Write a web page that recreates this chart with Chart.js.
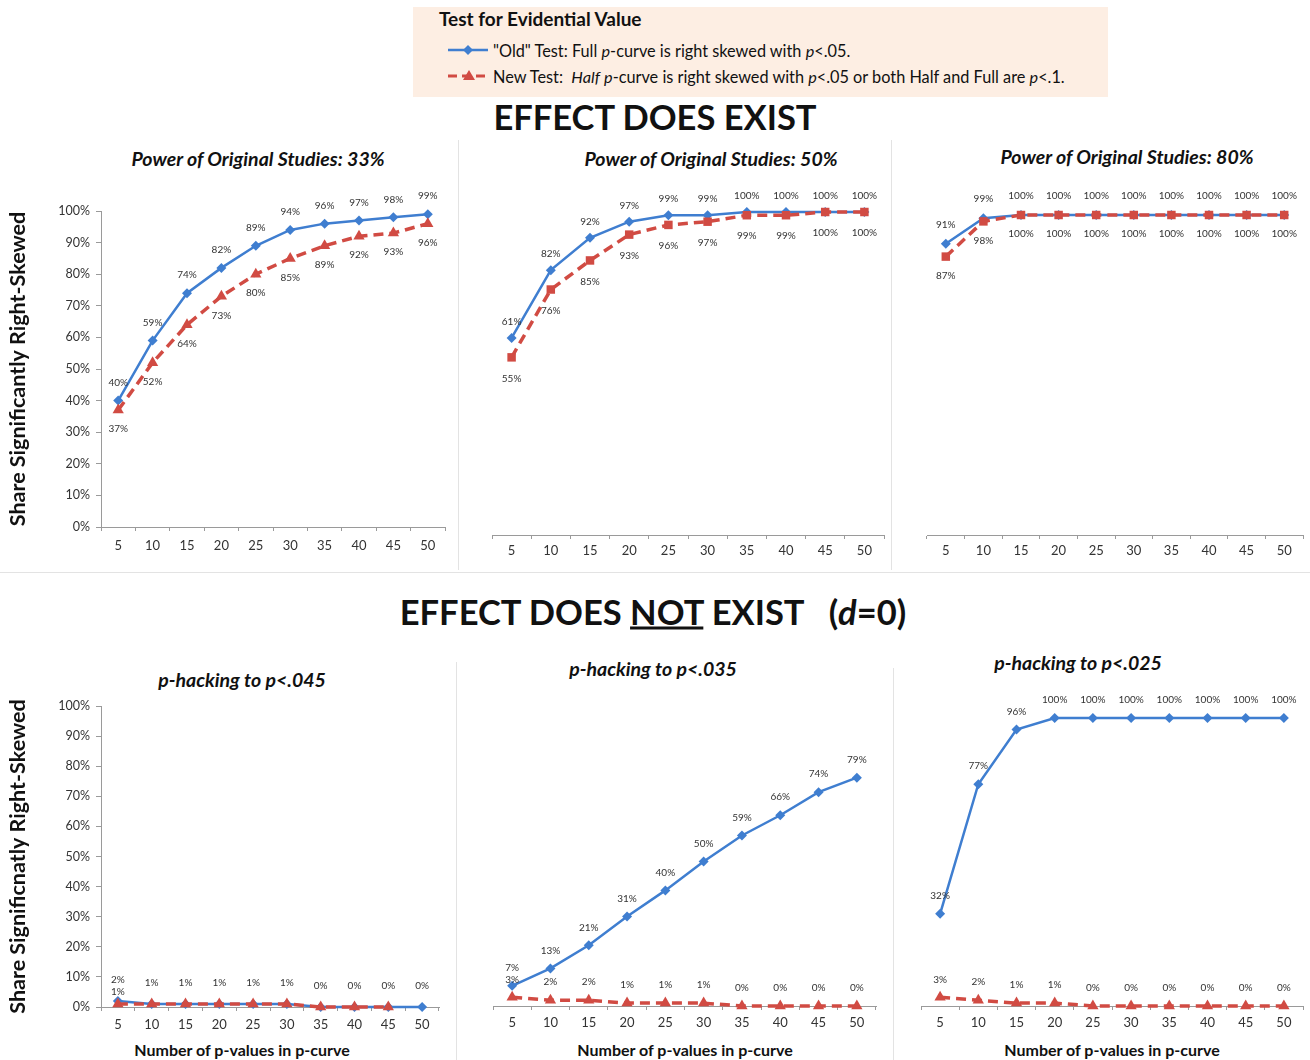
<!DOCTYPE html>
<html>
<head>
<meta charset="utf-8">
<script src="https://cdn.jsdelivr.net/npm/chart.js@4.4.1/dist/chart.umd.min.js"></script>
<style>
  body { margin: 0; background: #fff; font-family: Lato, "Open Sans", sans-serif; color: #111; }
  #page { position: relative; width: 1310px; height: 1060px; overflow: hidden; }
  .abs { position: absolute; white-space: nowrap; }
  canvas { position: absolute; }
  .legend { left: 413px; top: 7px; width: 695px; height: 90px; background: #fdeee3; }
  .bigtitle { font-weight: 700; font-size: 34.5px; transform: translate(-50%, -50%); }
  .ptitle { font-weight: 700; font-style: italic; font-size: 19.5px; transform: translate(-50%, -50%); }
  .xtitle { font-weight: 700; font-size: 16px; transform: translate(-50%, -50%); }
  .legtext { font-size: 16.3px; transform: translateY(-50%); }
  .sep { background: #e3e3e3; }
</style>
</head>
<body>
<div id="page">
  <div class="abs legend"></div>
  <div class="abs" style="left:439px; top:7px; font-weight:700; font-size:19px;">Test for Evidential Value</div>
  <svg class="abs" style="left:448px; top:42px;" width="40" height="16">
    <line x1="0" y1="8" x2="40" y2="8" stroke="#3f7ed0" stroke-width="2.5"/>
    <polygon points="20,3 25,8 20,13 15,8" fill="#3f7ed0"/>
  </svg>
  <div class="abs legtext" style="left:493px; top:50px;">"Old" Test: Full <i>p</i>-curve is right skewed with <i>p</i>&lt;.05.</div>
  <svg class="abs" style="left:448px; top:68px;" width="40" height="16">
    <line x1="0" y1="8" x2="40" y2="8" stroke="#d14b43" stroke-width="3" stroke-dasharray="9,5"/>
    <polygon points="21,2 27,12 15,12" fill="#d14b43"/>
  </svg>
  <div class="abs legtext" style="left:493px; top:76px;">New Test:&nbsp; <i>Half</i> <i>p</i>-curve is right skewed with <i>p</i>&lt;.05 or both Half and Full are <i>p</i>&lt;.1.</div>

  <div class="abs bigtitle" style="left:655px; top:116px;">EFFECT DOES EXIST</div>
  <div class="abs bigtitle" style="left:653px; top:611px;">EFFECT DOES <u>NOT</u> EXIST&nbsp;&nbsp; (<i>d</i>=0)</div>

  <div class="abs sep" style="left:0; top:572px; width:1310px; height:1px;"></div>
  <div class="abs sep" style="left:458px; top:140px; width:1px; height:430px;"></div>
  <div class="abs sep" style="left:891px; top:140px; width:1px; height:430px;"></div>
  <div class="abs sep" style="left:456px; top:662px; width:1px; height:398px;"></div>
  <div class="abs sep" style="left:893px; top:668px; width:1px; height:392px;"></div>

  <div class="abs ptitle" style="left:258px; top:158px;">Power of Original Studies: 33%</div>
  <div class="abs ptitle" style="left:711px; top:158px;">Power of Original Studies: 50%</div>
  <div class="abs ptitle" style="left:1127px; top:156px;">Power of Original Studies: 80%</div>
  <div class="abs ptitle" style="left:242px; top:679px;">p-hacking to p&lt;.045</div>
  <div class="abs ptitle" style="left:653px; top:668px;">p-hacking to p&lt;.035</div>
  <div class="abs ptitle" style="left:1078px; top:662px;">p-hacking to p&lt;.025</div>

  <div class="abs xtitle" style="left:242px; top:1049px;">Number of p-values in p-curve</div>
  <div class="abs xtitle" style="left:685px; top:1049px;">Number of p-values in p-curve</div>
  <div class="abs xtitle" style="left:1112px; top:1049px;">Number of p-values in p-curve</div>

  <canvas id="c1"></canvas>
  <canvas id="c2"></canvas>
  <canvas id="c3"></canvas>
  <canvas id="c4"></canvas>
  <canvas id="c5"></canvas>
  <canvas id="c6"></canvas>
</div>

<script>
// number of p-values in the p-curve (x categories)
const nValues = ['5', '10', '15', '20', '25', '30', '35', '40', '45', '50'];

// Effect does exist
const power33Old = [40, 59, 74, 82, 89, 94, 96, 97, 98, 99];
const power33New = [37, 52, 64, 73, 80, 85, 89, 92, 93, 96];
const power50Old = [61, 82, 92, 97, 99, 99, 100, 100, 100, 100];
const power50New = [55, 76, 85, 93, 96, 97, 99, 99, 100, 100];
const power80Old = [91, 99, 100, 100, 100, 100, 100, 100, 100, 100];
const power80New = [87, 98, 100, 100, 100, 100, 100, 100, 100, 100];

// Effect does not exist (d=0)
const hack045Old = [2, 1, 1, 1, 1, 1, 0, 0, 0, 0];
const hack045New = [1, 1, 1, 1, 1, 1, 0, 0, 0, null];
const hack035Old = [7, 13, 21, 31, 40, 50, 59, 66, 74, 79];
const hack035New = [3, 2, 2, 1, 1, 1, 0, 0, 0, 0];
const hack025Old = [32, 77, 96, 100, 100, 100, 100, 100, 100, 100];
const hack025New = [3, 2, 1, 1, 0, 0, 0, 0, 0, 0];

// which labels of the new test are printed in the p<.045 panel
const hack045NewShown = [true, false, false, false, false, false, false, false, false, false];

const BLUE = '#3f7ed0';
const RED = '#d14b43';
const FONT = 'Lato, "Open Sans", sans-serif';

// draws the percent labels next to every point
const valueLabels = {
  id: 'valueLabels',
  afterDatasetsDraw(chart) {
    const ctx = chart.ctx;
    ctx.save();
    ctx.font = '10px ' + FONT;
    ctx.fillStyle = '#333';
    ctx.textAlign = 'center';
    ctx.textBaseline = 'middle';
    chart.data.datasets.forEach((ds, i) => {
      const meta = chart.getDatasetMeta(i);
      meta.data.forEach((pt, j) => {
        const v = ds.data[j];
        if (v === null || v === undefined) return;
        if (ds.labelShown && !ds.labelShown[j]) return;
        ctx.fillText(v + '%', pt.x, pt.y + ds.labelOffset);
      });
    });
    ctx.restore();
  }
};

function makePanel(p) {
  const canvas = document.getElementById(p.id);
  canvas.style.left = p.left + 'px';
  canvas.style.top = p.top + 'px';
  canvas.width = p.width;
  canvas.height = p.height;
  canvas.style.width = p.width + 'px';
  canvas.style.height = p.height + 'px';

  const yScale = {
    min: 0,
    max: 100,
    display: p.showY,
    ticks: {
      stepSize: 10,
      padding: 6,
      color: '#333',
      font: { size: 12.5, family: FONT },
      callback: v => v + '%'
    },
    grid: { drawOnChartArea: false, tickLength: 5, color: '#9a9a9a' },
    border: { color: '#9a9a9a' },
    title: {
      display: !!p.yTitle,
      text: p.yTitle,
      color: '#111',
      font: { size: 21.5, weight: 'bold', family: FONT },
      padding: { top: 5, bottom: 0 }
    },
    afterFit: s => { if (p.yWidth) s.width = p.yWidth; }
  };

  new Chart(canvas.getContext('2d'), {
    type: 'line',
    data: {
      labels: nValues,
      datasets: [{
        label: 'Old',
        data: p.oldData,
        borderColor: BLUE,
        backgroundColor: BLUE,
        borderWidth: 2.5,
        pointStyle: 'rectRot',
        pointRadius: 5,
        pointBorderWidth: 0,
        clip: false,
        order: 1,
        labelOffset: p.oldOff
      }, {
        label: 'New',
        data: p.newData,
        borderColor: RED,
        backgroundColor: RED,
        borderWidth: 3.5,
        borderDash: [10, 6],
        pointStyle: p.newMarker,
        pointRadius: p.newMarker === 'rect' ? 6 : 6.5,
        pointBorderWidth: 0,
        clip: false,
        order: 0,
        labelOffset: p.newOff,
        labelShown: p.newShown
      }]
    },
    options: {
      responsive: false,
      animation: false,
      layout: { padding: { left: p.padL, right: p.padR, top: p.padT, bottom: 0 } },
      plugins: { legend: { display: false }, tooltip: { enabled: false } },
      scales: {
        x: {
          offset: true,
          ticks: { padding: p.xPad, color: '#333', font: { size: 13, family: FONT }, maxRotation: 0 },
          grid: { offset: true, drawOnChartArea: false, tickLength: 4, color: '#9a9a9a' },
          border: { color: '#9a9a9a' },
          afterFit: s => { s.height = p.xHeight; }
        },
        y: yScale
      }
    },
    plugins: [valueLabels]
  });
}

makePanel({ id: 'c1', left: 0, top: 140, width: 455, height: 425, padL: 0, padR: 10, padT: 71, yWidth: 101, xHeight: 38, xPad: 7,
  showY: true, yTitle: 'Share Significantly Right-Skewed',
  oldData: power33Old, newData: power33New, newMarker: 'triangle', oldOff: -18, newOff: 19 });
makePanel({ id: 'c2', left: 460, top: 140, width: 430, height: 425, padL: 32, padR: 2, padT: 72, xHeight: 30, xPad: 4,
  showY: false, oldData: power50Old, newData: power50New, newMarker: 'rect', oldOff: -16, newOff: 21 });
makePanel({ id: 'c3', left: 895, top: 140, width: 415, height: 425, padL: 32, padR: 7, padT: 75, xHeight: 30, xPad: 4,
  showY: false, oldData: power80Old, newData: power80New, newMarker: 'rect', oldOff: -19, newOff: 19 });
makePanel({ id: 'c4', left: 0, top: 650, width: 455, height: 410, padL: 0, padR: 16, padT: 56, yWidth: 101, xHeight: 53, xPad: 6,
  showY: true, yTitle: 'Share Significnatly Right-Skewed',
  oldData: hack045Old, newData: hack045New, newMarker: 'triangle', oldOff: -21, newOff: -12, newShown: hack045NewShown });
makePanel({ id: 'c5', left: 460, top: 650, width: 430, height: 410, padL: 33, padR: 14, padT: 67, xHeight: 54, xPad: 5,
  showY: false, oldData: hack035Old, newData: hack035New, newMarker: 'triangle', oldOff: -18, newOff: -18 });
makePanel({ id: 'c6', left: 895, top: 650, width: 415, height: 410, padL: 26, padR: 7, padT: 68, xHeight: 54, xPad: 5,
  showY: false, oldData: hack025Old, newData: hack025New, newMarker: 'triangle', oldOff: -18, newOff: -18 });
</script>
</body>
</html>
